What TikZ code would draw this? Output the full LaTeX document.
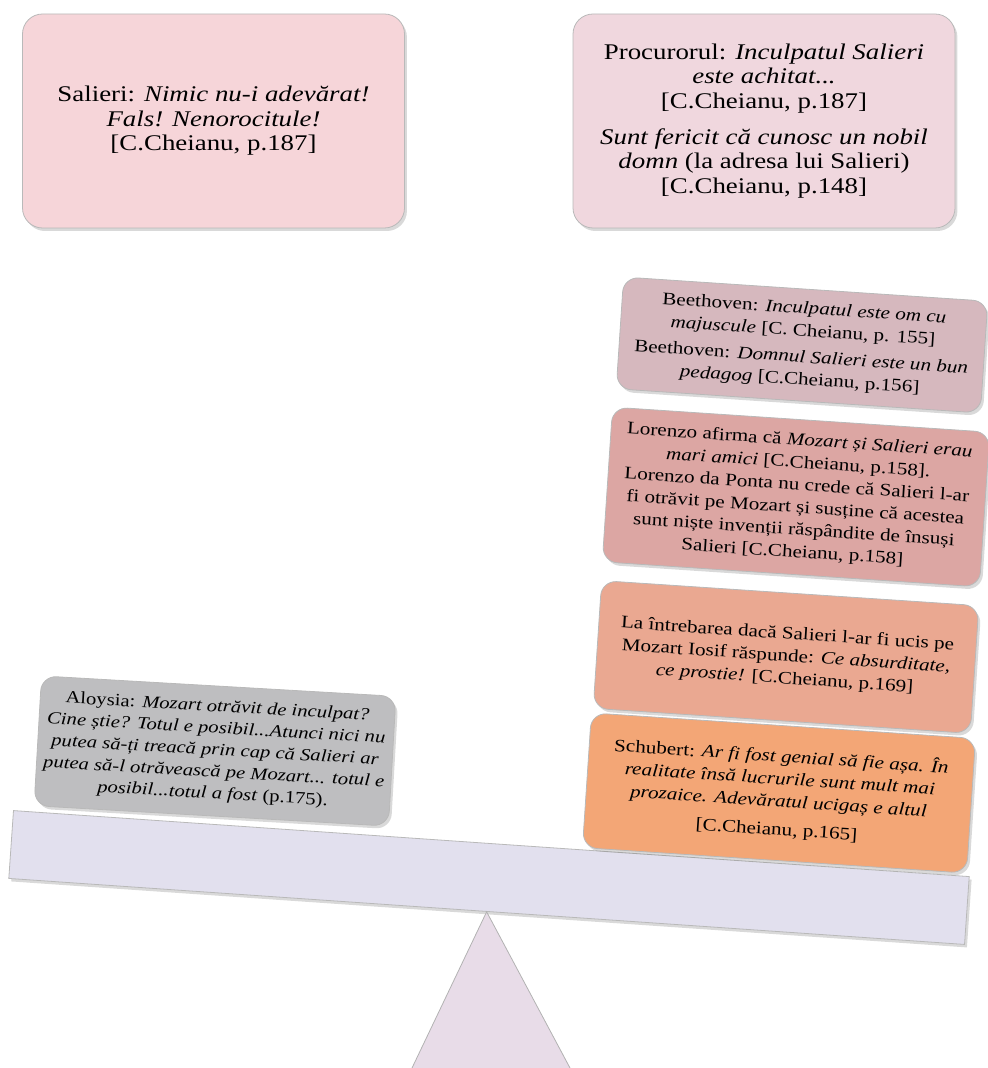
\documentclass[tikz,border=0pt]{standalone}
\usepackage{fontspec}
\setmainfont{Liberation Serif}[FakeStretch=1.2]
\usepackage{tikz}
\usetikzlibrary{shadows}
\definecolor{salieriPink}{HTML}{F6D5D9}
\definecolor{procPink}{HTML}{F0D7DE}
\definecolor{beetMauve}{HTML}{D6B8BE}
\definecolor{lorenzoRose}{HTML}{DCA6A3}
\definecolor{iosifSalmon}{HTML}{EAA891}
\definecolor{schubOrange}{HTML}{F3A676}
\definecolor{aloysGray}{HTML}{BEBEC0}
\definecolor{beamLilac}{HTML}{E2E0EE}
\definecolor{fulcLilac}{HTML}{E8DCE8}
\tikzstyle{every node}+=[inner sep=0pt]
\tikzstyle{quote} = [rectangle, draw=gray!55, align=center, drop shadow={opacity=0.3, shadow xshift=1.2pt, shadow yshift=-1.5pt}]
\tikzstyle{topbox} = [quote, rounded corners=10pt, minimum width=191pt, minimum height=107pt, font=\fontsize{11.2}{12.2}\selectfont]
\tikzstyle{sidebox} = [quote, rounded corners=7.5pt, rotate=-3.8, font=\fontsize{8.8}{11.2}\selectfont]

\begin{document}
\begin{tikzpicture}[x=0.5pt, y=-0.5pt]
            \useasboundingbox (0,0) rectangle (987,1068);
            % Scale
            \node [quote, fill=beamLilac, minimum width=479pt, minimum height=34pt, rotate=-3.95] (beam) at (489,877.5) {};
            \coordinate (apex) at (beam.south);
            \coordinate (footL) at (412,1068);
            \coordinate (footR) at (570,1068);
            \fill [fulcLilac] (apex) -- (footL) -- (footR) -- cycle;
            \draw [gray!60] (footL) -- (apex) -- (footR);
            % Top boxes
            \node [topbox, fill=salieriPink] (salieri) at (213.5,121) {Salieri: \textit{Nimic nu-i adevărat!}\\\textit{Fals! Nenorocitule!}\\{}[C.Cheianu, p.187]};
            \node [topbox, fill=procPink] (procuror) at (764,121) {Procurorul: \textit{Inculpatul Salieri}\\\textit{este achitat...}\\{}[C.Cheianu, p.187]\\[6pt]\textit{Sunt fericit că cunosc un nobil}\\\textit{domn} (la adresa lui Salieri)\\{}[C.Cheianu, p.148]};
            % Right pan
            \node [sidebox, fill=beetMauve, minimum width=182.5pt, minimum height=56pt] (beethoven) at (802,345) {Beethoven: \textit{Inculpatul este om cu}\\\textit{majuscule} [C. Cheianu, p. 155]\\[2pt]Beethoven: \textit{Domnul Salieri este un bun}\\\textit{pedagog} [C.Cheianu, p.156]};
            \node [sidebox, fill=lorenzoRose, minimum width=189pt, minimum height=77.5pt] (lorenzo) at (796,497) {Lorenzo afirma că \textit{Mozart și Salieri erau}\\\textit{mari amici} [C.Cheianu, p.158].\\Lorenzo da Ponta nu crede că Salieri l-ar\\fi otrăvit pe Mozart și susține că acestea\\sunt niște invenții răspândite de însuși\\Salieri [C.Cheianu, p.158]};
            \node [sidebox, fill=iosifSalmon, minimum width=189pt, minimum height=64pt] (iosif) at (786,657) {La întrebarea dacă Salieri l-ar fi ucis pe\\Mozart Iosif răspunde: \textit{Ce absurditate,}\\\textit{ce prostie!} [C.Cheianu, p.169]};
            \node [sidebox, fill=schubOrange, minimum width=192.5pt, minimum height=67.5pt] (schubert) at (779,793) {Schubert: \textit{Ar fi fost genial să fie așa. În}\\\textit{realitate însă lucrurile sunt mult mai}\\\textit{prozaice. Adevăratul ucigaș e altul}\\[3pt][C.Cheianu, p.165]};
            % Left pan
            \node [sidebox, rotate=0.5, fill=aloysGray, minimum width=177.5pt, minimum height=65pt, font=\fontsize{8.6}{10.9}\selectfont] (aloysia) at (215,751) {Aloysia: \textit{Mozart otrăvit de inculpat?}\\\textit{Cine știe? Totul e posibil...Atunci nici nu}\\\textit{putea să-ți treacă prin cap că Salieri ar}\\\textit{putea să-l otrăvească pe Mozart... totul e}\\\textit{posibil...totul a fost} (p.175).};
\end{tikzpicture}
\end{document}
